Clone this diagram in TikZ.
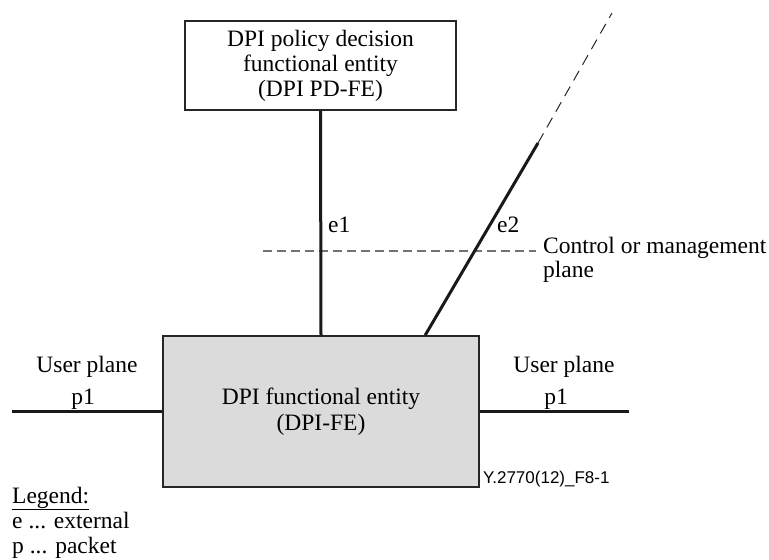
\documentclass[tikz,border=0pt]{standalone}
\usepackage{fontspec}
\setmainfont{Liberation Serif}
\newfontfamily\labelsans{Liberation Sans}
\begin{document}
\begin{tikzpicture}[x=1pt,y=-1pt,
  txt/.style={font=\fontsize{23.5}{25}\selectfont, inner sep=0pt},
  entity/.style={draw=black!85, line width=1.6pt, txt, align=center, inner sep=0pt},
  link/.style={line width=3pt, black!90},
  planeline/.style={line width=1.4pt, black!55, dash pattern=on 9pt off 5pt},
  farline/.style={line width=1pt, black!85, dash pattern=on 11pt off 7pt},
  ref/.style={font=\labelsans\fontsize{17}{18}\selectfont, inner sep=0pt}
]
\useasboundingbox (0,0) rectangle (769,560);

% entities
\node[entity, minimum width=271pt, minimum height=89pt] (pd) at (320.5,65.5)
  {DPI policy decision\\functional entity\\(DPI PD-FE)};
\node[entity, fill=black!14, minimum width=316pt, minimum height=151pt,
  font=\fontsize{23.5}{26.5}\selectfont] (fe) at (321,411.5)
  {DPI functional entity\\(DPI-FE)};

% free ends of the connectors
\coordinate (upL) at (12,411.5);
\coordinate (upR) at (629,411.5);
\coordinate (e2mid) at (538,143);
\coordinate (e2far) at (612,13);
\coordinate (cpL) at (263,251);
\coordinate (cpR) at (536,251);

% control/management plane boundary
\draw[planeline] (cpL) -- (cpR);

% interfaces
\draw[link] (pd.south) -- (fe.north);
\draw[link] ([xshift=263pt]fe.north west) -- (e2mid);
\draw[farline] (e2mid) -- (e2far);
\draw[link] (fe.west) -- (upL);
\draw[link] (fe.east) -- (upR);

% labels
\node[txt, anchor=base west] (le1) at (328,232) {e1};
\node[txt, anchor=base west] (le2) at (497,232) {e2};
\node[txt, anchor=base west, align=left] (lcp) at (543,253) {Control or management};
\node[txt, anchor=base west] (lcp2) at (543,277) {plane};
\node[txt, anchor=base] (lupL) at (87,372) {User plane};
\node[txt, anchor=base] (lp1L) at (83,404) {p1};
\node[txt, anchor=base] (lupR) at (564,372) {User plane};
\node[txt, anchor=base] (lp1R) at (556,404) {p1};
\node[ref, anchor=base west] (fig) at (483,483) {Y.2770(12)\_F8-1};

% legend
\node[txt, anchor=base west] (lg) at (12,503) {\underline{Legend:}};
\node[txt, anchor=base west] (lge) at (12,528) {e ... external};
\node[txt, anchor=base west] (lgp) at (12,553) {p ... packet};
\end{tikzpicture}
\end{document}
